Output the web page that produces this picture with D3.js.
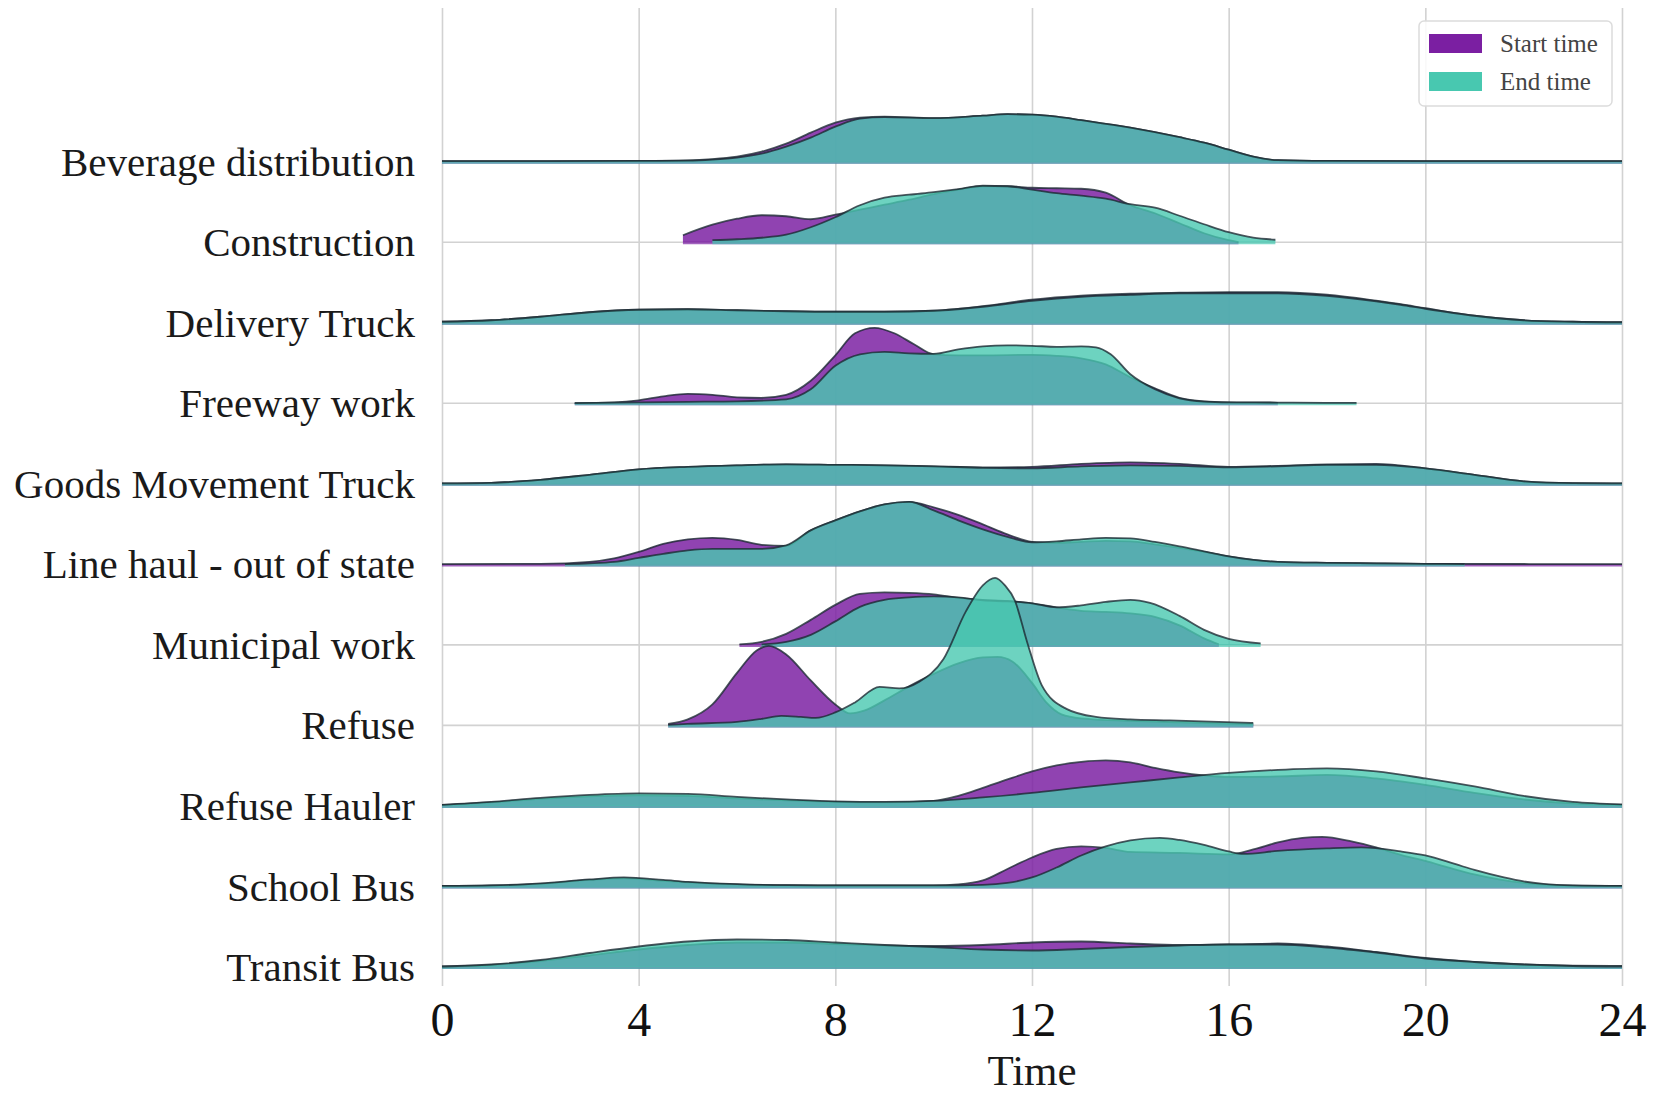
<!DOCTYPE html>
<html>
<head>
<meta charset="utf-8">
<script src="https://cdn.jsdelivr.net/npm/d3@7"></script>
<style>
  body { margin: 0; background: #fff; }
  svg { display: block; font-family: "Liberation Serif", "Times New Roman", serif; }
</style>
</head>
<body>
<svg width="1657" height="1096"></svg>
<script>
// Ridgeline chart: start / end time densities per vocation

const categories = [
    "Beverage distribution", "Construction", "Delivery Truck", "Freeway work",
    "Goods Movement Truck", "Line haul - out of state", "Municipal work", "Refuse",
    "Refuse Hauler", "School Bus", "Transit Bus"
];

const hourTicks = [0, 4, 8, 12, 16, 20, 24];

// density (% per hour), as [hour, density] pairs
const bevStart = [[0,0.1],[2,0.1],[4,0.15],[5,0.25],[5.5,0.5],[6,1.0],[6.5,2.0],[7,3.6],[7.5,5.8],[8,7.8],[8.5,8.8],[9,9.0],[10,8.7],[11,9.2],[11.5,9.5],[12,9.4],[12.5,9.0],[13,8.3],[14,6.8],[15,4.9],[15.5,3.8],[16,2.4],[16.5,1.0],[17,0.3],[18,0.15],[20,0.1],[24,0.1]];
const bevEnd = [[0,0.1],[2,0.1],[4,0.15],[5,0.2],[5.5,0.4],[6,0.8],[6.5,1.6],[7,3.0],[7.5,4.8],[8,7.0],[8.5,8.6],[9,8.9],[10,8.7],[11,9.2],[11.5,9.5],[12,9.4],[12.5,9.0],[13,8.3],[14,6.8],[15,4.9],[15.5,3.8],[16,2.4],[16.5,1.0],[17,0.3],[18,0.15],[20,0.1],[24,0.1]];

const conStart = [[4.9,1.4],[5.5,3.5],[6,4.7],[6.5,5.4],[7,5.2],[7.5,4.6],[8,5.5],[8.5,6.5],[9,7.5],[9.5,8.5],[10,9.6],[10.5,10.5],[11,11.2],[11.5,11.2],[12,10.9],[12.5,10.8],[13,10.7],[13.5,9.9],[14,7.4],[14.5,5.8],[15,3.8],[15.5,1.8],[16,0.4],[16.2,0]];
const conEnd = [[5.5,0.4],[6,0.6],[6.5,0.9],[7,1.5],[7.5,3.0],[8,5.0],[8.5,7.4],[9,8.9],[9.5,9.5],[10,10.0],[10.5,10.6],[11,11.3],[11.5,11.2],[12,10.5],[12.5,9.8],[13,9.3],[13.5,8.7],[14,7.6],[14.5,6.9],[15,5.3],[15.5,3.6],[16,2.0],[16.5,0.9],[16.95,0.5]];

const delStart = [[0,0.2],[1,0.5],[2,1.2],[3,2.1],[4,2.6],[5,2.7],[6,2.5],[7,2.3],[8,2.2],[9,2.2],[10,2.4],[11,3.3],[12,4.6],[13,5.4],[14,5.8],[15,6.0],[16,6.1],[17,6.1],[18,5.6],[19,4.4],[19.5,3.7],[20,2.9],[21,1.4],[22,0.5],[23,0.2],[24,0.1]];
const delEnd = [[0,0.2],[1,0.5],[2,1.2],[3,2.1],[4,2.6],[5,2.7],[6,2.5],[7,2.3],[8,2.2],[9,2.2],[10,2.4],[11,3.2],[12,4.4],[13,5.2],[14,5.6],[15,5.9],[16,5.9],[17,5.9],[18,5.4],[19,4.3],[19.5,3.6],[20,2.8],[21,1.4],[22,0.5],[23,0.2],[24,0.1]];

const frwStart = [[2.7,0.05],[3.5,0.2],[4,0.6],[4.5,1.4],[5,1.9],[5.5,1.7],[6,1.2],[6.5,1.1],[7,1.7],[7.5,4.5],[8,9.6],[8.4,14.0],[8.8,15.1],[9.2,14.0],[9.6,11.8],[10,9.8],[10.5,9.6],[11,9.6],[12,9.7],[12.5,9.5],[13,9.0],[13.5,7.8],[14,5.2],[14.5,3.0],[15,1.1],[15.5,0.4],[16,0.2],[17,0.1]];
const frwEnd = [[2.7,0.05],[4,0.2],[5,0.3],[6,0.4],[7,0.8],[7.5,2.8],[8,7.5],[8.5,9.8],[9,10.3],[9.5,10.0],[10,9.9],[10.5,10.8],[11,11.4],[11.5,11.6],[12,11.5],[12.5,11.3],[13,11.4],[13.3,11.2],[13.6,9.8],[14,5.8],[14.5,2.8],[15,1.0],[15.5,0.35],[16,0.2],[17,0.15],[18,0.1],[18.6,0.1]];

const gdsStart = [[0,0.1],[1,0.2],[2,0.8],[3,1.8],[4,2.9],[5,3.4],[6,3.7],[7,3.9],[8,3.8],[9,3.7],[10,3.5],[11,3.3],[12,3.4],[13,4.0],[14,4.3],[15,4.0],[16,3.4],[17,3.6],[18,3.9],[19,4.0],[20,3.1],[21,1.8],[22,0.5],[23,0.15],[24,0.1]];
const gdsEnd = [[0,0.1],[1,0.2],[2,0.8],[3,1.8],[4,2.9],[5,3.4],[6,3.7],[7,3.9],[8,3.8],[9,3.7],[10,3.5],[11,3.2],[12,3.1],[13,3.5],[14,3.7],[15,3.6],[16,3.3],[17,3.5],[18,3.8],[19,3.8],[20,3.1],[21,1.8],[22,0.5],[23,0.15],[24,0.1]];

const lhStart = [[0,0.05],[2,0.1],[3,0.5],[3.5,1.2],[4,2.5],[4.5,4.1],[5,5.0],[5.5,5.3],[6,4.9],[6.5,3.9],[7,3.7],[7.5,6.8],[8,8.8],[8.5,10.6],[9,12.0],[9.5,12.5],[10,11.4],[10.5,9.9],[11,8.0],[11.5,6.0],[12,4.5],[12.5,4.3],[13,4.5],[13.5,4.7],[14,4.6],[14.5,4.0],[15,3.3],[15.5,2.5],[16,1.6],[16.5,0.9],[17,0.5],[18,0.3],[19,0.2],[20,0.1],[24,0.05]];
const lhEnd = [[2.5,0.05],[3,0.2],[3.5,0.5],[4,1.3],[4.5,2.1],[5,2.8],[5.5,3.1],[6,3.1],[6.5,3.1],[7,3.8],[7.5,6.8],[8,8.8],[8.5,10.6],[9,12.0],[9.5,12.5],[10,10.8],[10.5,8.8],[11,7.0],[11.5,5.5],[12,4.4],[12.5,4.6],[13,5.0],[13.5,5.3],[14,5.2],[14.5,4.5],[15,3.6],[15.5,2.6],[16,1.6],[16.5,0.9],[17,0.5],[18,0.3],[19,0.2],[20,0.1],[20.8,0.05]];

const munStart = [[6.05,0.1],[6.5,0.6],[7,2.2],[7.5,5.0],[8,8.0],[8.5,10.2],[9,10.5],[9.5,10.4],[10,10.1],[10.5,9.4],[11,9.0],[11.5,8.8],[12,8.3],[12.5,7.5],[13,6.8],[13.5,6.6],[14,6.3],[14.5,5.6],[15,3.9],[15.5,1.3],[15.8,0.1]];
const munEnd = [[6.5,0.1],[7,0.6],[7.5,2.0],[8,4.7],[8.5,7.6],[9,9.0],[9.5,9.5],[10,9.7],[10.5,9.5],[11,8.9],[11.5,8.7],[12,8.3],[12.5,7.5],[13,7.9],[13.5,8.6],[14,9.0],[14.4,8.4],[15,5.8],[15.5,3.0],[16,1.2],[16.65,0.3]];

const refStart = [[4.6,0.3],[5,1.2],[5.5,4.2],[6,10.5],[6.4,15.0],[6.65,15.9],[7,14.2],[7.5,9.0],[8,4.2],[8.3,2.4],[8.6,3.0],[9,5.0],[9.5,7.8],[10,10.3],[10.5,12.4],[11,13.6],[11.3,13.7],[11.6,12.8],[12,8.5],[12.3,4.5],[12.6,2.2],[13,1.4],[14,0.9],[15,0.6],[16,0.35],[16.5,0.25]];
const refEnd = [[4.6,0.1],[5,0.3],[6,0.7],[6.5,1.3],[6.9,1.9],[7.3,1.7],[7.6,1.5],[8,2.6],[8.4,4.6],[8.9,7.7],[9.3,7.4],[9.7,8.7],[10.2,13.3],[10.65,22.7],[11,28.0],[11.25,29.5],[11.45,28.0],[11.65,25.0],[11.9,16.7],[12.2,8.0],[12.7,3.3],[13.3,1.7],[14,1.2],[14.8,1.0],[16.5,0.5]];

const rhStart = [[0,0.2],[1,0.7],[2,1.4],[3,1.9],[4,2.1],[5,2.0],[6,1.5],[7,1.1],[8,0.8],[9,0.7],[10,1.0],[10.5,2.0],[11,3.6],[11.5,5.3],[12,6.9],[12.5,8.1],[13,8.8],[13.5,9.1],[14,8.7],[14.5,7.6],[15,6.7],[15.5,6.1],[16,5.8],[17,5.9],[18,6.2],[19,5.5],[20,4.2],[21,2.6],[22,1.3],[23,0.5],[24,0.2]];
const rhEnd = [[0,0.2],[1,0.8],[2,1.6],[3,2.2],[4,2.5],[5,2.4],[6,1.8],[7,1.3],[8,0.9],[9,0.8],[10,1.0],[11,1.7],[12,2.6],[13,3.7],[14,4.7],[15,5.7],[16,6.6],[17,7.2],[18,7.5],[19,6.9],[20,5.5],[21,3.9],[22,2.0],[23,0.8],[24,0.3]];

const sbStart = [[0,0.1],[1,0.2],[2,0.5],[3,1.3],[3.7,1.6],[4.5,1.1],[5,0.8],[6,0.4],[7,0.25],[8,0.2],[10,0.2],[10.5,0.4],[11,1.2],[11.5,3.5],[12,5.8],[12.5,7.5],[13,8.0],[13.5,7.7],[14,6.9],[15,6.7],[16,6.4],[16.5,7.4],[17,8.8],[17.5,9.7],[17.9,9.9],[18.5,9.0],[19,7.8],[19.5,6.3],[20,5.1],[20.5,3.7],[21,2.4],[21.5,1.4],[22,0.7],[22.5,0.3],[23,0.15],[24,0.1]];
const sbEnd = [[0,0.1],[1,0.2],[2,0.6],[3,1.4],[3.7,1.8],[4.5,1.3],[5,0.9],[6,0.45],[7,0.25],[8,0.2],[10,0.2],[11,0.3],[11.5,0.7],[12,1.8],[12.5,3.8],[13,6.2],[13.5,8.0],[14,9.2],[14.6,9.7],[15,9.3],[15.5,8.3],[16,7.0],[16.3,6.5],[17,7.1],[18,7.6],[18.7,7.8],[19.5,7.0],[20,6.2],[20.6,4.5],[21,3.3],[21.6,1.8],[22,1.0],[22.4,0.5],[23,0.2],[24,0.1]];

const tbStart = [[0,0.1],[1,0.4],[2,1.2],[3,2.3],[4,3.5],[5,4.4],[6,4.9],[7,4.9],[8,4.6],[9,4.3],[10,4.2],[11,4.4],[12,4.9],[13,5.1],[14,4.7],[15,4.4],[16,4.5],[17,4.7],[18,4.1],[19,3.0],[20,1.8],[21,1.0],[22,0.5],[23,0.25],[24,0.2]];
const tbEnd = [[0,0.1],[1,0.5],[2,1.4],[3,2.8],[4,4.1],[5,5.1],[6,5.5],[7,5.4],[8,4.9],[9,4.4],[10,4.0],[11,3.5],[12,3.3],[13,3.6],[14,4.0],[15,4.3],[16,4.5],[17,4.5],[18,3.9],[19,2.9],[20,1.7],[21,1.0],[22,0.5],[23,0.2],[24,0.1]];

const startSeries = [bevStart, conStart, delStart, frwStart, gdsStart, lhStart, munStart, refStart, rhStart, sbStart, tbStart];
const endSeries = [bevEnd, conEnd, delEnd, frwEnd, gdsEnd, lhEnd, munEnd, refEnd, rhEnd, sbEnd, tbEnd];

const seriesNames = ["Start time", "End time"];
const seriesColors = ["#7b1fa2", "#48c8b0"];

const svg = d3.select("svg");

// Scales
const x = d3.scaleLinear().domain([0, 24]).range([442, 1622]);
const rowY = d3.scalePoint().domain(categories).range([161.7, 967]);
const h = d3.scaleLinear().domain([0, 30]).range([0, 150]);

// Vertical grid
svg.append("g")
    .attr("transform", "translate(0,986)")
    .call(d3.axisBottom(x).tickValues(hourTicks).tickSize(-978).tickFormat(""))
    .call(g => g.select(".domain").remove())
    .call(g => g.selectAll("line").attr("stroke", "#d2d2d2").attr("stroke-width", 1.6));

// Horizontal baselines
svg.append("g").selectAll("line")
    .data(categories)
    .join("line")
    .attr("x1", x(0))
    .attr("x2", x(24))
    .attr("y1", d => rowY(d))
    .attr("y2", d => rowY(d))
    .attr("stroke", "#d2d2d2")
    .attr("stroke-width", 1.6);

const area = d3.area()
    .x(d => x(d[0]))
    .y0(0)
    .y1(d => -h(d[1]))
    .curve(d3.curveMonotoneX);

const topLine = d3.line()
    .x(d => x(d[0]))
    .y(d => -h(d[1]))
    .curve(d3.curveMonotoneX);

// One ridge per category, lower rows drawn over upper ones
categories.forEach((cat, i) => {
    const g = svg.append("g").attr("transform", `translate(0,${rowY(cat)})`);
    [startSeries[i], endSeries[i]].forEach((pts, s) => {
        g.append("path")
            .attr("d", area(pts))
            .attr("fill", seriesColors[s])
            .attr("fill-opacity", s === 0 ? 0.84 : 0.8);
        g.append("line")
            .attr("x1", x(pts[0][0]))
            .attr("x2", x(pts[pts.length - 1][0]))
            .attr("y1", 0.8)
            .attr("y2", 0.8)
            .attr("stroke", seriesColors[s])
            .attr("stroke-opacity", 0.7)
            .attr("stroke-width", 2.5);
        g.append("path")
            .attr("d", topLine(pts))
            .attr("fill", "none")
            .attr("stroke", "#1d2a33")
            .attr("stroke-opacity", 0.8)
            .attr("stroke-width", 1.8);
    });
});

// Category labels
svg.append("g")
    .attr("transform", `translate(${x(0)},0)`)
    .call(d3.axisLeft(rowY).tickSize(0).tickPadding(27))
    .call(g => g.select(".domain").remove())
    .call(g => g.selectAll("text")
        .attr("font-size", 41)
        .attr("font-family", "Liberation Serif")
        .attr("fill", "#1a1a1a")
        .attr("dy", "0.33em"));

// Hour axis
svg.append("g")
    .attr("transform", "translate(0,1002)")
    .call(d3.axisBottom(x).tickValues(hourTicks).tickSize(0).tickPadding(0))
    .call(g => g.select(".domain").remove())
    .call(g => g.selectAll("text")
        .attr("font-size", 48)
        .attr("font-family", "Liberation Serif")
        .attr("fill", "#111")
        .attr("dy", "0.7em"));

svg.append("text")
    .attr("x", x(12))
    .attr("y", 1085)
    .attr("text-anchor", "middle")
    .attr("font-size", 43)
    .attr("fill", "#1a1a1a")
    .text("Time");

// Legend
const legend = svg.append("g").attr("transform", "translate(1419,21)");
legend.append("rect")
    .attr("width", 193)
    .attr("height", 85)
    .attr("rx", 5)
    .attr("fill", "#fff")
    .attr("fill-opacity", 0.85)
    .attr("stroke", "#dcdcdc")
    .attr("stroke-width", 1.5);

seriesNames.forEach((name, i) => {
    legend.append("rect")
        .attr("x", 10)
        .attr("y", 13 + i * 38)
        .attr("width", 53)
        .attr("height", 19)
        .attr("fill", seriesColors[i]);
    legend.append("text")
        .attr("x", 81)
        .attr("y", 22 + i * 38)
        .attr("dominant-baseline", "central")
        .attr("font-size", 25)
        .attr("fill", "#444")
        .text(name);
});
</script>
</body>
</html>
